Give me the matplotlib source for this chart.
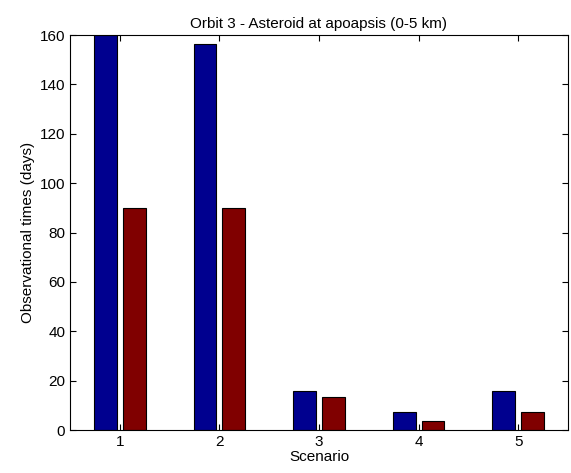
import matplotlib
matplotlib.use("Agg")
import matplotlib.pyplot as plt
import numpy as np

plt.rcParams['font.family'] = ['Liberation Sans', 'DejaVu Sans']

scenarios = [1, 2, 3, 4, 5]
series_a = [160, 156.3, 15.8, 7.3, 15.8]
series_b = [90, 90, 13.4, 3.6, 7.3]

fig = plt.figure(figsize=(5.71, 4.73), dpi=100)
ax = fig.add_axes([0.1226, 0.0909, 0.8721, 0.8351])

x = np.array(scenarios, dtype=float)
w = 0.23
off = 0.145
ax.bar(x - off, series_a, width=w, color='#00008F', edgecolor='black', linewidth=0.8)
ax.bar(x + off, series_b, width=w, color='#800000', edgecolor='black', linewidth=0.8)

ax.set_xlim(0.5, 5.5)
ax.set_ylim(0, 160)
ax.set_xticks(scenarios)
ax.set_yticks(np.arange(0, 161, 20))
ax.tick_params(direction='in', length=4, labelsize=11)
ax.tick_params(axis='both', top=True, right=True)
for s in ax.spines.values():
    s.set_linewidth(0.8)

ax.set_title('Orbit 3 - Asteroid at apoapsis (0-5 km)', fontsize=11, pad=5)
ax.set_xlabel('Scenario', fontsize=11, labelpad=1)
ax.set_ylabel('Observational times (days)', fontsize=11, labelpad=3)

fig.savefig('out.png', dpi=100)
